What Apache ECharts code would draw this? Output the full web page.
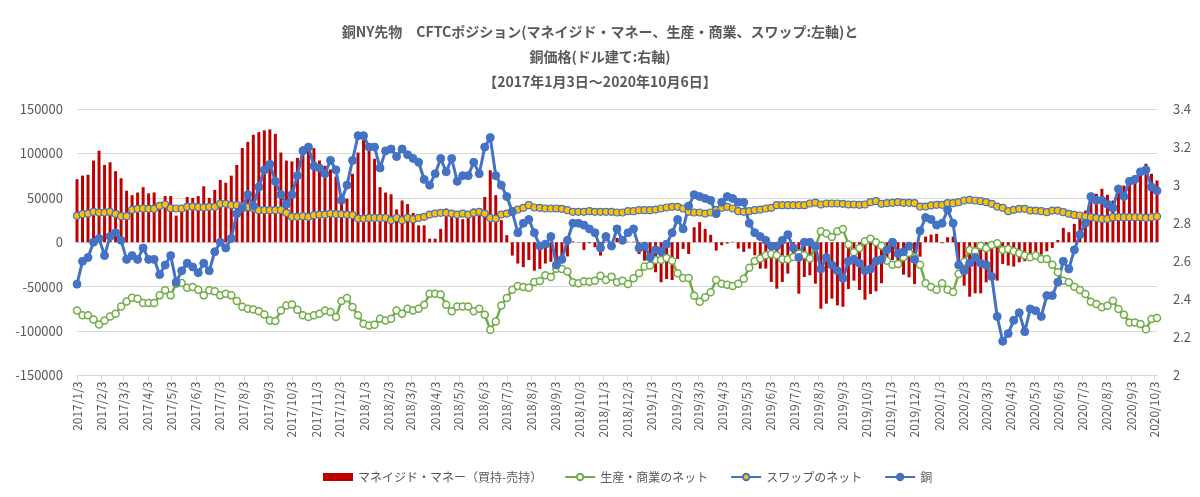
<!DOCTYPE html>
<html>
<head>
<meta charset="utf-8">
<script src="https://cdn.jsdelivr.net/npm/echarts@6/dist/echarts.min.js"></script>
<style>
html,body{margin:0;padding:0;background:#fff;}
#chart{width:1200px;height:497px;}
</style>
</head>
<body>
<div id="chart"></div>
<script>
// 週次データ 2017/1/3 ～ 2020/10/6（毎週火曜日）
var managedMoney = [
	71000,75000,76000,92000,103000,87000,90000,80000,72000,58000,
	53000,56000,62000,55000,56000,45000,52000,52000,30000,42000,
	51000,50000,52000,63000,50000,59000,70000,67000,75000,87000,
	106000,113000,121000,124000,126000,127000,122000,101000,92000,91000,
	95000,108000,107000,106000,92000,86000,82000,74000,53000,49000,
	77000,101000,115000,104000,94000,62000,56000,54000,37000,47000,
	43000,33000,19000,19000,4000,4000,15000,38000,36000,30000,
	26000,30000,38000,36000,51000,81000,53000,25000,8000,-15000,
	-24000,-28000,-20000,-32000,-30000,-24000,-22000,-26000,-16000,-16000,
	1000,-400,-8600,-1100,-5600,-15000,500,-3800,4900,500,
	500,500,-13200,-20700,-22600,-33800,-45100,-41400,-42500,-18800,
	-7500,-13200,16900,22600,15000,8300,-9400,-3400,-1500,500,
	-7100,-10900,-7100,-14700,-29700,-29700,-44700,-52300,-44700,-35300,
	-14700,-57900,-39100,-37200,-46600,-74800,-69200,-63500,-71100,-72600,
	-52600,-43200,-53800,-64700,-58300,-55300,-46200,-24400,-19900,-28200,
	-36500,-39500,-47000,-16200,6400,8600,9400,-1100,5600,6400,
	-28200,-48900,-61300,-57500,-57500,-45100,-35700,-43200,-24400,-26300,
	-27400,-22600,-21400,-15000,-16200,-13900,-10200,-6400,2600,16200,
	11300,20700,27400,35700,50800,54500,60200,53400,47000,59000,
	63900,69600,75200,82700,88400,77100,69600
];
var producerNet = [
	-76700,-82300,-82300,-86900,-92500,-88000,-83500,-80500,-72200,-66600,
	-62400,-63500,-68400,-68400,-68400,-59800,-54100,-59800,-46600,-45900,
	-51100,-50400,-53400,-59800,-54100,-55300,-59800,-57900,-59800,-66200,
	-72600,-74800,-75600,-77800,-81200,-88000,-88700,-76700,-71100,-70000,
	-76000,-82300,-84200,-82300,-80500,-76700,-78600,-84200,-66200,-62800,
	-72900,-82300,-91700,-93600,-92900,-86100,-88000,-86100,-76700,-80500,
	-74800,-76700,-74800,-70300,-57900,-57900,-58700,-70300,-77800,-72200,
	-72200,-72200,-77800,-74800,-81600,-98500,-89100,-71100,-62800,-53400,
	-49300,-50400,-51100,-44700,-43600,-37200,-39100,-29700,-30000,-33000,
	-45000,-46200,-44000,-44400,-43200,-37600,-42500,-38700,-45100,-43200,
	-47000,-40600,-35000,-27400,-26300,-19900,-19900,-17700,-20700,-35000,
	-40200,-40200,-60200,-66900,-62000,-56400,-42500,-46600,-47800,-49300,
	-46600,-41000,-28600,-21100,-18400,-14700,-13200,-14700,-19200,-19200,
	-16500,-12800,-14700,-18400,-5300,12400,9800,6000,12400,15000,
	-2600,-11300,-6400,1100,3800,0,-3800,-20700,-25200,-24400,
	-17000,-12000,-17000,-25200,-46200,-50400,-53400,-46200,-53400,-56000,
	-35700,-22000,-8600,-10200,-3800,-6800,-3000,-1100,-8600,-7500,
	-10200,-12400,-15000,-16900,-15000,-18800,-18800,-25200,-33800,-43200,
	-45100,-50000,-53800,-58300,-66900,-69600,-73300,-71400,-65800,-75200,
	-81600,-90200,-90200,-92100,-97800,-86500,-85400
];
var swapNet = [
	29700,31600,32300,34200,33500,33500,34200,32000,29300,29300,
	36500,37600,38000,37600,37600,41000,42500,38400,38000,38000,
	39900,40200,39500,39100,39900,39900,43200,43200,41700,41700,
	40600,39500,38000,36100,36100,36100,36100,36300,33000,28800,
	28600,29300,28600,30500,31200,31200,32300,31600,31600,31200,
	30500,26700,26700,27400,27400,27400,27400,24800,27400,24800,
	27400,25900,27400,28600,31200,32300,33100,33100,32300,31200,
	32300,31200,33100,34200,32300,27400,26700,31200,32300,35000,
	36800,38700,41700,39100,38700,38000,38000,38000,37600,36100,
	34200,34200,34200,35000,34200,34200,34200,34200,33500,33500,
	35000,35000,36100,36100,36100,36800,38000,39100,39900,39900,
	38000,34200,33500,33500,32300,33500,36100,38700,39900,38000,
	35000,34200,35000,36100,36800,38000,38700,41700,41700,41700,
	41700,41700,41700,43600,44700,42500,43600,43600,43600,43200,
	42500,42500,42100,42500,45100,46200,43200,44000,44400,45100,
	44400,44400,44000,40200,40200,41400,42100,42100,44000,44000,
	45100,47000,47800,47000,46200,45100,43200,40200,38700,35000,
	36500,37600,37600,35700,35700,35000,33800,35700,35700,33800,
	32000,30800,30100,29000,28200,27400,26300,26300,28200,28200,
	28200,28200,28200,28200,27400,28200,29000
];
var copperPrice = [
	2.48,2.60,2.62,2.70,2.72,2.63,2.73,2.75,2.71,2.61,
	2.63,2.61,2.67,2.61,2.61,2.53,2.58,2.63,2.49,2.55,
	2.59,2.57,2.54,2.59,2.55,2.65,2.70,2.67,2.72,2.85,
	2.88,2.95,2.89,2.99,3.08,3.11,3.02,2.95,2.90,2.95,
	3.05,3.18,3.20,3.10,3.09,3.06,3.13,3.08,2.92,3.00,
	3.13,3.26,3.26,3.20,3.20,3.09,3.18,3.19,3.15,3.19,
	3.16,3.14,3.12,3.03,3.00,3.06,3.14,3.07,3.14,3.02,
	3.05,3.05,3.12,3.06,3.20,3.25,3.05,3.00,2.94,2.86,
	2.75,2.80,2.82,2.75,2.68,2.69,2.73,2.58,2.61,2.71,
	2.80,2.80,2.79,2.77,2.75,2.67,2.73,2.68,2.77,2.71,
	2.75,2.77,2.67,2.68,2.62,2.66,2.65,2.69,2.75,2.82,
	2.77,2.89,2.95,2.94,2.93,2.92,2.85,2.91,2.94,2.93,
	2.91,2.91,2.80,2.75,2.73,2.71,2.68,2.68,2.71,2.74,
	2.67,2.62,2.70,2.70,2.68,2.56,2.62,2.58,2.55,2.51,
	2.60,2.61,2.59,2.55,2.56,2.60,2.61,2.66,2.70,2.64,
	2.65,2.68,2.61,2.76,2.83,2.82,2.79,2.80,2.87,2.80,
	2.58,2.55,2.59,2.62,2.59,2.58,2.52,2.31,2.18,2.22,
	2.29,2.33,2.23,2.35,2.34,2.31,2.42,2.42,2.49,2.60,
	2.56,2.66,2.74,2.80,2.94,2.92,2.92,2.90,2.88,2.98,
	2.94,3.02,3.03,3.07,3.08,2.99,2.97
];
var leftTicks = [-150000, 150000, 50000];   // min, max, interval
var rightTicks = [2, 3.4, 0.2];

var seriesNames = ['マネイジド・マネー（買持-売持）', '生産・商業のネット', 'スワップのネット', '銅'];

(function() {
	// 週の日付（2017/1/3 から7日ごと）
	var weeks = [];
	for (var i = 0; i < managedMoney.length; i++) {
		weeks.push(new Date(2017, 0, 3 + 7 * i).getTime());
	}
	// 月ごとの目盛り（毎月3日）
	var monthTicks = [];
	for (var m = 0; m < 46; m++) {
		monthTicks.push(new Date(2017, m, 3).getTime());
	}
	function pair(arr) {
		var out = [];
		for (var i = 0; i < arr.length; i++) out.push([weeks[i], arr[i]]);
		return out;
	}
	function fmtDate(v) {
		var d = new Date(v);
		return d.getFullYear() + '/' + (d.getMonth() + 1) + '/' + d.getDate();
	}

	var textColor = '#595959';
	var font = '"Noto Sans CJK JP", "Noto Sans", sans-serif';

	var chart = echarts.init(document.getElementById('chart'), null, {renderer: 'canvas'});
	var option = {
		animation: false,
		backgroundColor: '#fff',
		textStyle: {fontFamily: font, color: textColor},
		title: {
			text: '銅NY先物　CFTCポジション(マネイジド・マネー、生産・商業、スワップ:左軸)と\n銅価格(ドル建て:右軸)\n【2017年1月3日～2020年10月6日】',
			left: 'center',
			top: 14,
			textStyle: {
				fontFamily: font,
				fontSize: 14,
				fontWeight: 'bold',
				color: textColor,
				lineHeight: 25
			}
		},
		legend: {
			data: [
				{name: seriesNames[0], icon: 'rect'},
				{name: seriesNames[1]},
				{name: seriesNames[2]},
				{name: seriesNames[3]}
			],
			left: 318,
			top: 466,
			itemWidth: 30,
			itemHeight: 8,
			itemGap: 22,
			textStyle: {fontFamily: font, fontSize: 12, color: textColor}
		},
		grid: {left: 77, right: 43, top: 109, bottom: 121.5},
		xAxis: {
			type: 'value',
			min: weeks[0],
			max: weeks[weeks.length - 1],
			axisLine: {onZero: false, lineStyle: {color: '#D9D9D9'}},
			axisTick: {show: true, customValues: monthTicks, length: 5, lineStyle: {color: '#D9D9D9'}},
			axisLabel: {
				customValues: monthTicks,
				rotate: 90,
				formatter: fmtDate,
				fontFamily: font,
				fontSize: 12,
				color: textColor,
				margin: 6,
				hideOverlap: false
			},
			splitLine: {show: false}
		},
		yAxis: [
			{
				type: 'value',
				min: leftTicks[0],
				max: leftTicks[1],
				interval: leftTicks[2],
				axisLine: {show: false},
				axisTick: {show: false},
				axisLabel: {
					fontFamily: font, fontSize: 13, color: textColor, margin: 14,
					formatter: function(v) { return String(v); }
				},
				splitLine: {lineStyle: {color: '#D9D9D9', width: 1}}
			},
			{
				type: 'value',
				min: rightTicks[0],
				max: rightTicks[1],
				interval: rightTicks[2],
				axisLine: {show: false},
				axisTick: {show: false},
				axisLabel: {fontFamily: font, fontSize: 13, color: textColor, margin: 16},
				splitLine: {show: false}
			}
		],
		series: [
			{
				name: seriesNames[0],
				type: 'bar',
				yAxisIndex: 0,
				barWidth: 3,
				clip: false,
				itemStyle: {color: '#C00000'},
				data: pair(managedMoney)
			},
			{
				name: seriesNames[1],
				type: 'line',
				yAxisIndex: 0,
				symbol: 'circle',
				symbolSize: 7,
				showAllSymbol: true,
				lineStyle: {color: '#70AD47', width: 2.5},
				itemStyle: {color: '#FFFFFF', borderColor: '#70AD47', borderWidth: 1.5},
				data: pair(producerNet)
			},
			{
				name: seriesNames[2],
				type: 'line',
				yAxisIndex: 0,
				symbol: 'circle',
				symbolSize: 7,
				showAllSymbol: true,
				lineStyle: {color: '#4472C4', width: 2.5},
				itemStyle: {color: '#FFC000', borderColor: '#4472C4', borderWidth: 1.2},
				data: pair(swapNet)
			},
			{
				name: seriesNames[3],
				type: 'line',
				yAxisIndex: 1,
				symbol: 'circle',
				symbolSize: 8,
				showAllSymbol: true,
				lineStyle: {color: '#4472C4', width: 3},
				itemStyle: {color: '#4472C4', borderColor: '#4472C4', borderWidth: 1},
				data: pair(copperPrice)
			}
		]
	};
	chart.setOption(option);
})();
</script>
</body>
</html>
